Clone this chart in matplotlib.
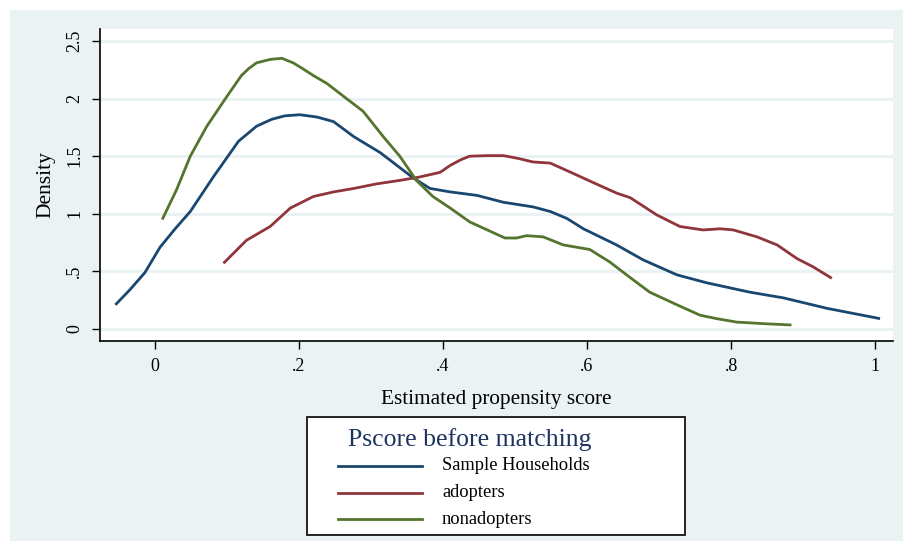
import numpy as np
import matplotlib.pyplot as plt
from matplotlib.lines import Line2D
from matplotlib.patches import Rectangle

# kernel density estimates (x = propensity score, y = density)
hh_x = [-0.055, -0.035, -0.014, 0.007, 0.028, 0.049, 0.081, 0.116, 0.141, 0.162, 0.18, 0.201,
        0.225, 0.248, 0.276, 0.313, 0.359, 0.382, 0.41, 0.447, 0.484, 0.525, 0.549, 0.572,
        0.595, 0.641, 0.678, 0.725, 0.767, 0.826, 0.873, 0.933, 1.007]
hh_y = [0.21, 0.34, 0.49, 0.71, 0.87, 1.02, 1.32, 1.63, 1.76, 1.82, 1.85, 1.86,
        1.84, 1.80, 1.67, 1.53, 1.31, 1.22, 1.19, 1.16, 1.10, 1.06, 1.02, 0.96,
        0.87, 0.73, 0.60, 0.47, 0.40, 0.32, 0.27, 0.18, 0.09]

ad_x = [0.095, 0.127, 0.16, 0.188, 0.22, 0.248, 0.276, 0.308, 0.34, 0.368, 0.396, 0.41,
        0.425, 0.437, 0.461, 0.484, 0.505, 0.525, 0.549, 0.581, 0.609, 0.641, 0.66, 0.697,
        0.729, 0.761, 0.785, 0.803, 0.836, 0.864, 0.892, 0.914, 0.94]
ad_y = [0.57, 0.77, 0.89, 1.05, 1.15, 1.19, 1.22, 1.26, 1.29, 1.32, 1.36, 1.42,
        1.47, 1.50, 1.505, 1.505, 1.48, 1.45, 1.44, 1.35, 1.27, 1.18, 1.14, 0.99,
        0.89, 0.86, 0.87, 0.86, 0.80, 0.73, 0.61, 0.54, 0.44]

na_x = [0.010, 0.030, 0.049, 0.072, 0.10, 0.12, 0.13, 0.141, 0.16, 0.176, 0.192, 0.205,
        0.22, 0.239, 0.266, 0.289, 0.317, 0.34, 0.363, 0.386, 0.41, 0.437, 0.465, 0.486,
        0.502, 0.516, 0.539, 0.567, 0.604, 0.632, 0.655, 0.687, 0.725, 0.757, 0.78, 0.808,
        0.85, 0.884]
na_y = [0.95, 1.21, 1.50, 1.76, 2.02, 2.20, 2.26, 2.31, 2.34, 2.35, 2.31, 2.26,
        2.20, 2.13, 2.00, 1.89, 1.67, 1.50, 1.29, 1.15, 1.05, 0.93, 0.85, 0.79,
        0.79, 0.81, 0.80, 0.73, 0.69, 0.58, 0.47, 0.32, 0.21, 0.12, 0.09, 0.06,
        0.045, 0.035]

series_names = ["Sample Households", "adopters", "nonadopters"]
colors = ["#1a476f", "#90353b", "#55752f"]

x_ticks = [0, 0.2, 0.4, 0.6, 0.8, 1]
x_ticklabels = ["0", ".2", ".4", ".6", ".8", "1"]
y_ticks = [0, 0.5, 1, 1.5, 2, 2.5]
y_ticklabels = ["0", ".5", "1", "1.5", "2", "2.5"]

bg = "#eaf2f3"
plt.rcParams['font.family'] = ['Liberation Serif', 'DejaVu Serif']

W, H = 904, 541
fig = plt.figure(figsize=(W / 100, H / 100), dpi=100)
fig.patch.set_facecolor("white")
# stata-like outer graph region
fig.add_artist(Rectangle((10 / W, 0), 1 - 10 / W, 1 - 10 / H, transform=fig.transFigure,
                         facecolor=bg, edgecolor="none", zorder=-10))

ax = fig.add_axes([100 / W, (H - 341) / H, (893 - 100) / W, (341 - 29) / H])
ax.set_facecolor("white")
for k, (xs, ys) in enumerate([(hh_x, hh_y), (ad_x, ad_y), (na_x, na_y)]):
    ax.plot(xs, ys, color=colors[k], lw=2, solid_capstyle="butt",
            solid_joinstyle="round", zorder=3)

ax.set_xlim(-0.0764, 1.025)
ax.set_ylim(-0.104, 2.604)
ax.set_xticks(x_ticks)
ax.set_xticklabels(x_ticklabels)
ax.set_yticks(y_ticks)
ax.set_yticklabels(y_ticklabels, rotation=90, va="center")
ax.yaxis.grid(True, color=bg, lw=2.2)
ax.set_axisbelow(True)
for s in ["top", "right"]:
    ax.spines[s].set_visible(False)
for s in ["left", "bottom"]:
    ax.spines[s].set_color("black")
    ax.spines[s].set_linewidth(1.2)
ax.tick_params(axis="both", direction="out", length=6, width=1, color="black",
               labelsize=13, pad=6)
ax.set_xlabel("Estimated propensity score", fontsize=15.3, labelpad=11)
ax.set_ylabel("Density", fontsize=15.5, labelpad=8)

# legend box drawn in figure pixels
def fx(px):
    return px / W

def fy(py):
    return 1 - py / H

fig.add_artist(Rectangle((fx(307), fy(535)), fx(685) - fx(307), fy(417) - fy(535),
                         transform=fig.transFigure, facecolor="white", edgecolor="black", lw=1.2))
fig.text(fx(348), fy(440), "Pscore before matching", fontsize=18.5, color="#1f3461",
         ha="left", va="center")
for k, name in enumerate(series_names):
    yy = fy(466 + 26.5 * k)
    fig.add_artist(Line2D([fx(338), fx(422)], [yy, yy], transform=fig.transFigure,
                          color=colors[k], lw=2))
    fig.text(fx(442), yy, name, fontsize=13.3, ha="left", va="center")

fig.savefig("out.png", dpi=100)
